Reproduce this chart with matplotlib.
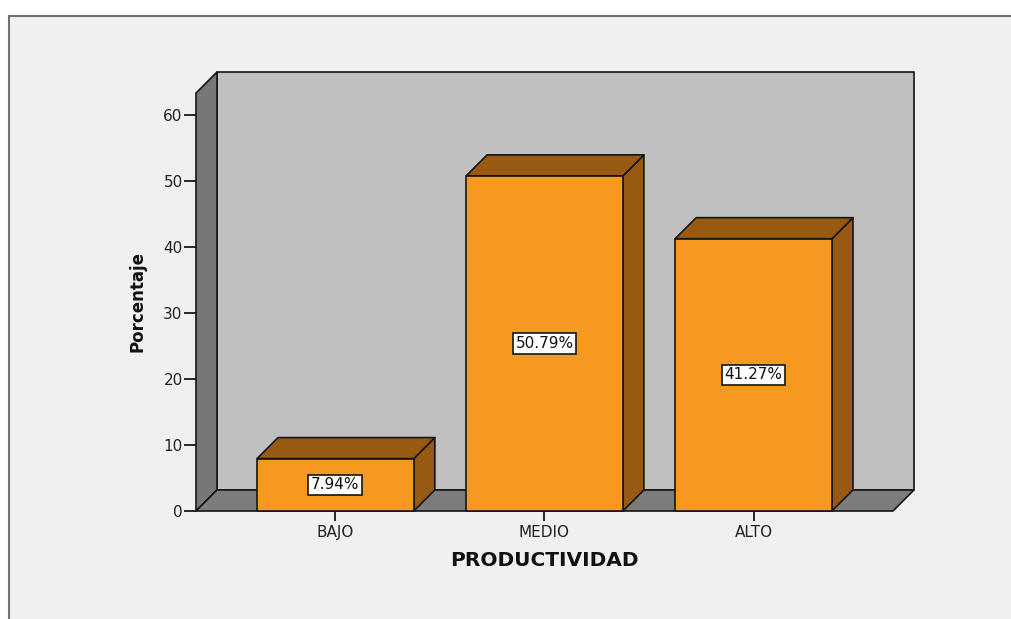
import numpy as np
import matplotlib.pyplot as plt
from matplotlib.patches import Polygon, Rectangle

categorias = ["BAJO", "MEDIO", "ALTO"]
porcentajes = [7.94, 50.79, 41.27]
yticks = [0, 10, 20, 30, 40, 50, 60]

W, H = 1011, 619
fig = plt.figure(figsize=(W / 100, H / 100), dpi=100, facecolor="white")
plt.rcParams["font.family"] = ["DejaVu Sans"]

# marco gris del grafico
fig.patches.append(Rectangle((9 / W, -0.1), 1.2, 1 - 16 / H + 0.1,
                             transform=fig.transFigure, facecolor="#f0f0f0",
                             edgecolor="#707070", linewidth=1.5, zorder=-5))

ax = fig.add_axes([196 / W, (H - 511) / H, (914 - 196) / W, (511 - 72) / H])
ax.set_zorder(2)
ax.patch.set_visible(False)
for s in ax.spines.values():
    s.set_visible(False)

# geometria 3D: profundidad en unidades de datos
x0, x1 = -0.667, 2.667   # borde frontal del piso
ymax = 63.35
dx, dy = 0.1005, 3.19
ancho = 0.75
gris_pared = "#c0c0c0"
gris_osc = "#777777"
naranja = "#f7991e"
marron = "#985a13"
borde = "#151515"
lw = 1.2

ax.set_xlim(x0, x1 + dx)
ax.set_ylim(0, ymax + dy)

def cara(pts, color, z):
    ax.add_patch(Polygon(pts, closed=True, facecolor=color, edgecolor=borde,
                         linewidth=lw, joinstyle="round", zorder=z, clip_on=False))

# paredes y piso
cara([(x0 + dx, dy), (x1 + dx, dy), (x1 + dx, ymax + dy), (x0 + dx, ymax + dy)], gris_pared, 1)
cara([(x0, 0), (x0 + dx, dy), (x0 + dx, ymax + dy), (x0, ymax)], gris_osc, 2)
cara([(x0, 0), (x1, 0), (x1 + dx, dy), (x0 + dx, dy)], "#7c7c7c", 2)

# barras
for i, v in enumerate(porcentajes):
    l, r = i - ancho / 2, i + ancho / 2
    cara([(r, 0), (r + dx, dy), (r + dx, v + dy), (r, v)], marron, 3)
    cara([(l, v), (l + dx, v + dy), (r + dx, v + dy), (r, v)], marron, 3)
    cara([(l, 0), (r, 0), (r, v), (l, v)], naranja, 4)
    ax.text(i, v / 2, f"{v:.2f}%", ha="center", va="center", fontsize=11,
            color="#111111", zorder=6,
            bbox=dict(boxstyle="square,pad=0.18", facecolor="white",
                      edgecolor=borde, linewidth=1.2))

ax.set_yticks(yticks)
ax.set_xticks(range(len(categorias)))
ax.set_xticklabels(categorias)
ax.tick_params(axis="y", length=8.6, width=1.3, pad=1, labelsize=11,
               color=borde, labelcolor="#222222")
ax.tick_params(axis="x", length=7, width=1.3, pad=3, labelsize=11,
               color=borde, labelcolor="#222222")

fig.text(544 / W, 1 - 560 / H, "PRODUCTIVIDAD", ha="center", va="center",
         fontsize=14.5, fontweight="bold", color="#111111")
fig.text(137 / W, 1 - 302 / H, "Porcentaje", ha="center", va="center",
         rotation=90, fontsize=12, fontweight="bold", color="#111111")

fig.savefig("out.png", dpi=100)
